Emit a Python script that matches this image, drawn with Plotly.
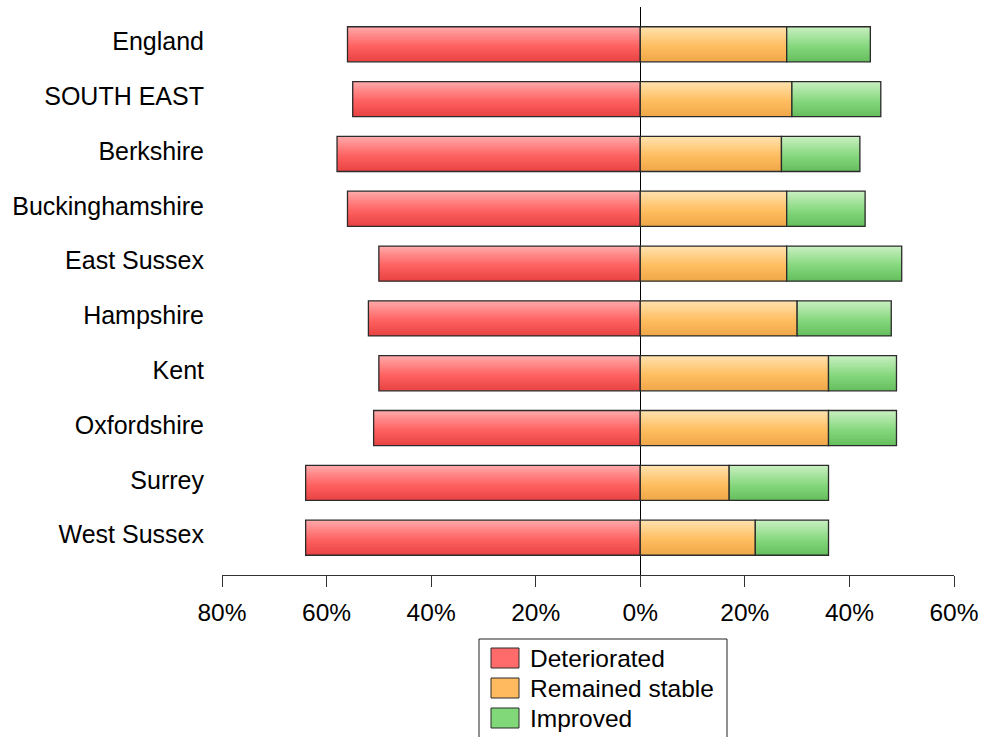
import plotly.graph_objects as go

# Share of respondents by area (%)
areas = ["England", "SOUTH EAST", "Berkshire", "Buckinghamshire", "East Sussex",
         "Hampshire", "Kent", "Oxfordshire", "Surrey", "West Sussex"]
deteriorated = [56, 55, 58, 56, 50, 52, 50, 51, 64, 64]
remained_stable = [28, 29, 27, 28, 28, 30, 36, 36, 17, 22]
improved = [16, 17, 15, 15, 22, 18, 13, 13, 19, 14]

tick_values = [-80, -60, -40, -20, 0, 20, 40, 60]
tick_labels = ["80%", "60%", "40%", "20%", "0%", "20%", "40%", "60%"]

series_names = ["Deteriorated", "Remained stable", "Improved"]
# (top, middle, bottom) shades of each series' vertical gradient
series_shades = [
    ((255, 170, 170), (255, 98, 98), (232, 66, 66)),
    ((255, 226, 176), (255, 190, 96), (238, 166, 72)),
    ((202, 240, 194), (134, 216, 126), (100, 190, 92)),
]
legend_colors = ["#FF6A6A", "#FFB95E", "#80D878"]
edge_color = "#2b2b2b"
font_family = "Liberation Sans, Arial, sans-serif"

W, H = 988, 737
L, R, T, B = 222, 34, 7, 162
plot_w, plot_h = W - L - R, H - T - B
BAR_W = 0.64
N_SLICES = 16


def px_x(px):
    return (px - L) / plot_w


def px_y(py):
    return (H - B - py) / plot_h


def shade(stops, t):
    top, mid, bot = stops
    if t < 0.55:
        a, b, u = top, mid, t / 0.55
    else:
        a, b, u = mid, bot, (t - 0.55) / 0.45
    r, g, bl = (round(a[i] + (b[i] - a[i]) * u) for i in range(3))
    return f"rgb({r},{g},{bl})"


# Each series as (base, length): red runs left from 0, orange from 0, green after orange
segments = [
    ([-v for v in deteriorated], deteriorated),
    ([0] * len(areas), remained_stable),
    (remained_stable, improved),
]

fig = go.Figure()
step = BAR_W / N_SLICES
for (base, length), stops, name in zip(segments, series_shades, series_names):
    for k in range(N_SLICES):
        t = (k + 0.5) / N_SLICES
        fig.add_trace(go.Bar(
            y=areas, x=length, base=base, orientation="h",
            width=step * 1.5 if k < N_SLICES - 1 else step,
            offset=-BAR_W / 2 + k * step,
            marker=dict(color=shade(stops, t), line=dict(width=0)),
            name=name, hoverinfo="skip"))
    # outline of the whole bar
    fig.add_trace(go.Bar(
        y=areas, x=length, base=base, orientation="h", width=BAR_W,
        marker=dict(color="rgba(0,0,0,0)", line=dict(color=edge_color, width=1.3)),
        name=name, hovertemplate="%{y}: %{x}%<extra>" + name + "</extra>"))

# Boxed legend drawn below the axis
shapes = [dict(type="rect", xref="paper", yref="paper",
               x0=px_x(479), x1=px_x(727), y0=px_y(760), y1=px_y(639),
               line=dict(color="#222222", width=1), fillcolor="white")]
annotations = []
for i, (name, col) in enumerate(zip(series_names, legend_colors)):
    cy = 658 + 30 * i
    shapes.append(dict(type="rect", xref="paper", yref="paper",
                       x0=px_x(491), x1=px_x(519), y0=px_y(cy + 10), y1=px_y(cy - 10),
                       line=dict(color=edge_color, width=1), fillcolor=col))
    annotations.append(dict(text=name, xref="paper", yref="paper",
                            x=px_x(528), y=px_y(cy), xanchor="left", yanchor="middle",
                            showarrow=False, font=dict(size=24.5, color="black")))

fig.update_layout(
    width=W, height=H,
    margin=dict(l=L, r=R, t=T, b=B, pad=0),
    barmode="overlay",
    showlegend=False,
    plot_bgcolor="white", paper_bgcolor="white",
    font=dict(family=font_family, size=25, color="black"),
    shapes=shapes, annotations=annotations,
    xaxis=dict(range=[-80, 60], tickvals=tick_values, ticktext=tick_labels,
               showgrid=False, zeroline=True, zerolinecolor="black", zerolinewidth=1,
               showline=True, linecolor="#333333", linewidth=1,
               ticks="outside", ticklen=11, tickcolor="#333333", tickwidth=1,
               ticklabelstandoff=5, tickfont=dict(size=24.5),
               layer="above traces", fixedrange=True),
    yaxis=dict(categoryorder="array", categoryarray=areas,
               range=[9.68, -0.68], showgrid=False, zeroline=False,
               showline=False, ticks="", ticklabelstandoff=17,
               ticklabelshift=3, fixedrange=True),
)

fig.write_html("out.html")
